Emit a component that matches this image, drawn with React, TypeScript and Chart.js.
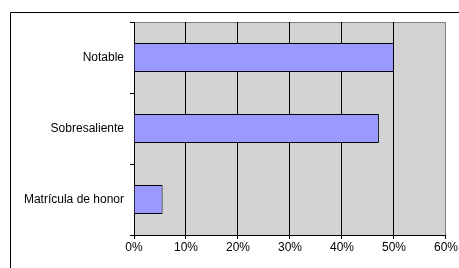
import React, { useEffect, useRef } from "react";
import { Chart, registerables } from "chart.js";

Chart.register(...registerables);

const categories = ["Notable", "Sobresaliente", "Matrícula de honor"];
const values = [50, 47.1, 5.5];
const xTicks = [0, 10, 20, 30, 40, 50, 60];

const frame = {
  id: "frame",
  beforeDraw(chart: any) {
    const { ctx, chartArea: a } = chart;
    ctx.save();
    ctx.fillStyle = "#ffffff";
    ctx.fillRect(0, 0, chart.width, chart.height);
    ctx.fillStyle = "#d3d3d3";
    ctx.fillRect(a.left, a.top, a.right - a.left, a.bottom - a.top);
    ctx.strokeStyle = "#000000";
    ctx.lineWidth = 1;
    ctx.beginPath();
    ctx.moveTo(10.5, chart.height);
    ctx.lineTo(10.5, 12.5);
    ctx.lineTo(chart.width, 12.5);
    ctx.stroke();
    ctx.strokeStyle = "#808080";
    ctx.beginPath();
    ctx.moveTo(a.left, a.top + 0.5);
    ctx.lineTo(a.right - 0.5, a.top + 0.5);
    ctx.lineTo(a.right - 0.5, a.bottom);
    ctx.stroke();
    ctx.restore();
  },
};

export default function App() {
  const ref = useRef<HTMLCanvasElement | null>(null);
  useEffect(() => {
    if (!ref.current) return;
    const chart = new Chart(ref.current, {
      type: "bar",
      data: {
        labels: categories,
        datasets: [
          {
            data: values,
            backgroundColor: "#9999ff",
            borderColor: "#000000",
            borderWidth: 1,
            categoryPercentage: 1,
            barPercentage: 0.41,
          },
        ],
      },
      options: {
        indexAxis: "y",
        animation: false,
        responsive: false,
        layout: { padding: { left: 0, top: 22, right: 12, bottom: 0 } },
        plugins: { legend: { display: false }, tooltip: { enabled: false } },
        scales: {
          x: {
            min: 0,
            max: 60,
            afterFit: (s: any) => {
              s.height = 33;
            },
            afterBuildTicks: (s: any) => {
              s.ticks = xTicks.map((v) => ({ value: v }));
            },
            ticks: {
              callback: (v: any) => v + "%",
              color: "#000",
              font: { family: "Liberation Sans, Arial", size: 12 },
              padding: 1,
              maxRotation: 0,
            },
            grid: {
              color: (c: any) => (c.tick && c.tick.value === 60 ? "#808080" : "#000000"),
              tickColor: "#000000",
              tickLength: 4,
              lineWidth: 1,
            },
            border: { color: "#000000", width: 1 },
          },
          y: {
            afterFit: (s: any) => {
              s.width = 134;
            },
            ticks: {
              color: "#000",
              font: { family: "Liberation Sans, Arial", size: 12 },
              padding: 6,
            },
            grid: {
              offset: true,
              drawOnChartArea: false,
              color: "#000000",
              tickLength: 4,
            },
            border: { color: "#000000", width: 1 },
          },
        },
      },
      plugins: [frame],
    });
    return () => chart.destroy();
  }, []);
  return (
    <div style={{ position: "fixed", left: 0, top: 0, width: 459, height: 268 }}>
      <canvas ref={ref} width={459} height={268} style={{ width: 459, height: 268 }} />
    </div>
  );
}
